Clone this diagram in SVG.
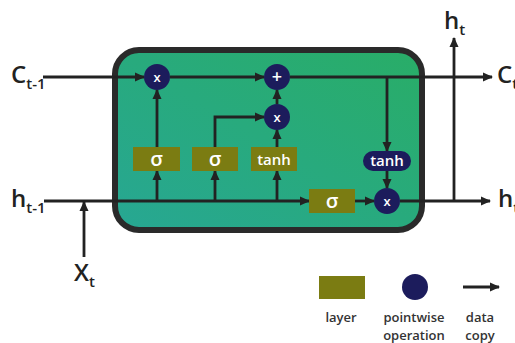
<svg xmlns="http://www.w3.org/2000/svg" width="515" height="343" viewBox="0 0 515 343">
<defs>
<linearGradient id="bg" x1="0" y1="1" x2="1" y2="0">
<stop offset="0" stop-color="#27a793"/>
<stop offset="1" stop-color="#29ad67"/>
</linearGradient>
<marker id="ah" markerWidth="10" markerHeight="10" refX="9" refY="5" orient="auto" markerUnits="userSpaceOnUse">
<path d="M0,0.5 L10,5 L0,9.5 Z" fill="#222"/>
</marker>
<style>
.ln{fill:none;stroke:#222;stroke-width:2.8}
.ar{fill:none;stroke:#222;stroke-width:2.8;marker-end:url(#ah)}
.layer{fill:#7b7c12}
.op{fill:#1c1c5c}
.wt{fill:#fff;font-family:"Open Sans","DejaVu Sans",sans-serif;text-anchor:middle;font-weight:600}
.lbl{fill:#222;font-family:"Open Sans","DejaVu Sans",sans-serif;font-weight:600}
.leg{fill:#333;font-family:"Open Sans","DejaVu Sans",sans-serif;font-size:13px;font-weight:600;text-anchor:middle}
</style>
</defs>
<rect width="515" height="343" fill="#fff"/>
<g id="cell">
<rect x="115" y="50" width="307" height="180" rx="24" fill="url(#bg)" stroke="#2a2a2a" stroke-width="6"/>
</g>
<g id="connectors">
<line class="ar" x1="43" y1="77" x2="144" y2="77"/>
<line class="ar" x1="170" y1="77" x2="264" y2="77"/>
<line class="ar" x1="290" y1="77" x2="492" y2="77"/>
<line class="ar" x1="157" y1="147" x2="157" y2="90"/>
<polyline class="ar" points="215,147 215,117 264,117"/>
<line class="ar" x1="277" y1="147" x2="277" y2="130"/>
<line class="ar" x1="277" y1="104" x2="277" y2="90"/>
<line class="ar" x1="44" y1="201" x2="309" y2="201"/>
<line class="ar" x1="157" y1="201" x2="157" y2="171"/>
<line class="ar" x1="215" y1="201" x2="215" y2="171"/>
<line class="ar" x1="277" y1="201" x2="277" y2="171"/>
<line class="ar" x1="355" y1="201" x2="374" y2="201"/>
<line class="ar" x1="400" y1="201" x2="490" y2="201"/>
<line class="ar" x1="454" y1="201" x2="454" y2="38"/>
<line class="ar" x1="387" y1="77" x2="387" y2="151"/>
<line class="ar" x1="387" y1="170" x2="387" y2="188"/>
<line class="ar" x1="84" y1="257" x2="84" y2="202"/>
</g>
<g id="mult-forget"><circle class="op" cx="157" cy="77" r="13"/><text class="wt" x="157" y="82" font-size="13">x</text></g>
<g id="add"><circle class="op" cx="277" cy="77" r="13"/><text class="wt" x="277" y="83" font-size="18">+</text></g>
<g id="mult-input"><circle class="op" cx="277" cy="117" r="13"/><text class="wt" x="277" y="122" font-size="13">x</text></g>
<g id="sigma-forget"><rect class="layer" x="133" y="147" width="47" height="24"/><text class="wt" x="156.5" y="166" font-size="20">σ</text></g>
<g id="sigma-input"><rect class="layer" x="192" y="147" width="46" height="24"/><text class="wt" x="215" y="166" font-size="20">σ</text></g>
<g id="tanh-layer"><rect class="layer" x="251" y="147" width="46" height="24"/><text class="wt" x="274" y="164.5" font-size="15">tanh</text></g>
<g id="sigma-output"><rect class="layer" x="309" y="189" width="46" height="24"/><text class="wt" x="332" y="208" font-size="20">σ</text></g>
<g id="tanh-op"><rect class="op" x="363" y="151" width="48" height="20" rx="10"/><text class="wt" x="387" y="166" font-size="15">tanh</text></g>
<g id="mult-output"><circle class="op" cx="387" cy="201" r="13"/><text class="wt" x="387" y="206" font-size="13">x</text></g>
<g id="labels">
<text class="lbl" x="11" y="83" font-size="24">C<tspan font-size="15" dy="6">t-1</tspan></text>
<text class="lbl" x="11" y="207" font-size="24">h<tspan font-size="15" dy="6">t-1</tspan></text>
<text class="lbl" x="74" y="281" font-size="24">X<tspan font-size="15" dy="6">t</tspan></text>
<text class="lbl" x="444" y="29" font-size="24">h<tspan font-size="15" dy="6">t</tspan></text>
<text class="lbl" x="497" y="83" font-size="24">C<tspan font-size="15" dy="6">t</tspan></text>
<text class="lbl" x="498" y="207" font-size="24">h<tspan font-size="15" dy="6">t</tspan></text>
</g>
<g id="legend">
<rect class="layer" x="319" y="276" width="46" height="23"/>
<circle class="op" cx="415" cy="287" r="13"/>
<line class="ar" x1="463" y1="287" x2="499" y2="287"/>
<text class="leg" x="341" y="322">layer</text>
<text class="leg" x="414" y="322">pointwise</text>
<text class="leg" x="414" y="340">operation</text>
<text class="leg" x="480" y="322">data</text>
<text class="leg" x="480" y="340">copy</text>
</g>
</svg>
